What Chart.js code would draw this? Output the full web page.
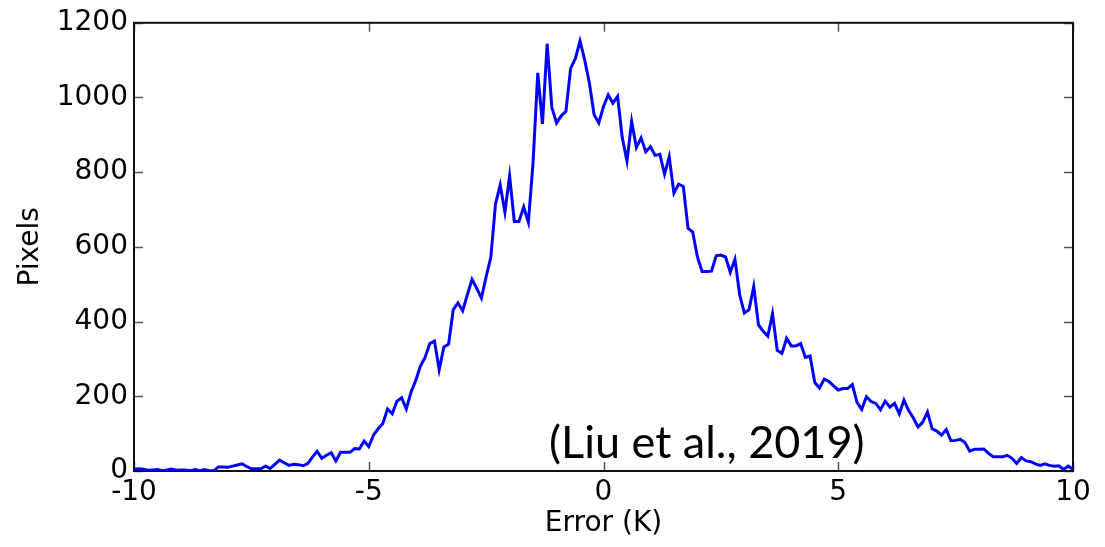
<!DOCTYPE html>
<html>
<head>
<meta charset="utf-8">
<script src="https://cdn.jsdelivr.net/npm/chart.js@4/dist/chart.umd.min.js"></script>
<style>
  html, body { margin: 0; padding: 0; background: #fff; }
  #wrap { width: 1105px; height: 547px; position: relative; }
</style>
</head>
<body>
<div id="wrap"><canvas id="c"></canvas></div>
<script>
// Histogram of retrieval error: bins of 0.1 K from -10 K to +10 K
const binStart = -10;
const binWidth = 0.1;
const pixelCounts = [
  5, 6, 5, 2, 3, 4, 1, 3, 5, 2,
  3, 3, 1, 4, 1, 4, 1, 1, 11, 11,
  10, 13, 16, 19, 12, 6, 6, 6, 13, 7,
  18, 29, 22, 15, 18, 17, 14, 20, 37, 53,
  34, 42, 49, 27, 50, 50, 50, 60, 59, 80,
  65, 96, 113, 127, 166, 153, 187, 196, 166, 211,
  242, 281, 304, 341, 348, 271, 332, 339, 432, 450,
  429, 472, 513, 489, 463, 520, 572, 715, 766, 693,
  790, 668, 668, 707, 666, 826, 1066, 929, 1144, 973,
  932, 951, 963, 1078, 1104, 1151, 1100, 1038, 954, 932,
  976, 1007, 985, 1003, 892, 830, 936, 866, 892, 855,
  868, 845, 848, 795, 841, 744, 768, 762, 650, 640,
  573, 534, 534, 535, 576, 578, 573, 532, 567, 472,
  423, 432, 494, 392, 374, 361, 421, 323, 315, 355,
  335, 335, 341, 304, 308, 237, 222, 246, 240, 228,
  217, 221, 221, 231, 184, 165, 199, 186, 181, 164,
  187, 171, 181, 153, 190, 162, 142, 118, 131, 158,
  113, 107, 96, 111, 81, 82, 85, 76, 53, 58,
  58, 59, 47, 38, 38, 38, 42, 34, 20, 36,
  27, 25, 19, 15, 19, 15, 13, 14, 4, 13,
  5
];
const xTicks = [-10, -5, 0, 5, 10];
const yTicks = [0, 200, 400, 600, 800, 1000, 1200];
const xTitle = 'Error (K)';
const yTitle = 'Pixels';
const citation = '(Liu et al., 2019)';
const citationPos = { x: 2.2, y: 77 };

const points = pixelCounts.map((v, i) => ({ x: +(binStart + i * binWidth).toFixed(1), y: v }));

const FONT = '"DejaVu Sans", "Liberation Sans", Arial, sans-serif';

const framePlugin = {
  id: 'frame',
  beforeDatasetsDraw(chart) {
    const { ctx, chartArea: a, scales } = chart;
    ctx.save();
    ctx.strokeStyle = '#555';
    ctx.lineWidth = 1.5;
    const L = 9;
    ctx.beginPath();
    xTicks.forEach(t => {
      const px = Math.round(scales.x.getPixelForValue(t)) + 0.5;
      ctx.moveTo(px, a.bottom); ctx.lineTo(px, a.bottom - L);
      ctx.moveTo(px, a.top); ctx.lineTo(px, a.top + L);
    });
    yTicks.forEach(t => {
      const py = Math.round(scales.y.getPixelForValue(t)) + 0.5;
      ctx.moveTo(a.left, py); ctx.lineTo(a.left + L, py);
      ctx.moveTo(a.right, py); ctx.lineTo(a.right - L, py);
    });
    ctx.stroke();
    ctx.strokeStyle = '#111';
    ctx.lineWidth = 2;
    ctx.strokeRect(a.left, a.top, a.right - a.left, a.bottom - a.top);
    ctx.restore();
  },
  afterDatasetsDraw(chart) {
    const { ctx, scales } = chart;
    ctx.save();
    ctx.font = '45px Lato, "Open Sans", sans-serif';
    ctx.fillStyle = '#000';
    ctx.textAlign = 'center';
    ctx.textBaseline = 'alphabetic';
    ctx.fillText(citation, scales.x.getPixelForValue(citationPos.x), scales.y.getPixelForValue(citationPos.y) + 16);
    ctx.restore();
  }
};

new Chart(document.getElementById('c'), {
  type: 'line',
  data: {
    datasets: [{
      data: points,
      borderColor: '#0000ff',
      borderWidth: 3,
      pointRadius: 0,
      tension: 0,
      fill: false
    }]
  },
  options: {
    responsive: true,
    maintainAspectRatio: false,
    animation: false,
    events: [],
    layout: { padding: { top: 20, right: 32, left: 0, bottom: 0 } },
    plugins: { legend: { display: false }, tooltip: { enabled: false } },
    scales: {
      x: {
        type: 'linear',
        min: -10, max: 10,
        afterFit(s) { s.height = 76; },
        afterBuildTicks(s) { s.ticks = xTicks.map(v => ({ value: v })); },
        grid: { display: false, drawTicks: false },
        border: { display: false },
        ticks: { color: '#000', padding: 5, maxRotation: 0, font: { family: FONT, size: 28 }, callback: v => String(v) },
        title: { display: true, text: xTitle, color: '#000', padding: { top: 0, bottom: 6 }, font: { family: FONT, size: 28 } }
      },
      y: {
        min: 0, max: 1200,
        afterFit(s) { s.width = 134; },
        afterBuildTicks(s) { s.ticks = yTicks.map(v => ({ value: v })); },
        grid: { display: false, drawTicks: false },
        border: { display: false },
        ticks: { color: '#000', padding: 6, font: { family: FONT, size: 28 }, callback: v => String(v) },
        title: { display: true, text: yTitle, color: '#000', padding: { top: 14, bottom: 0 }, font: { family: FONT, size: 28 } }
      }
    }
  },
  plugins: [framePlugin]
});
</script>
</body>
</html>
